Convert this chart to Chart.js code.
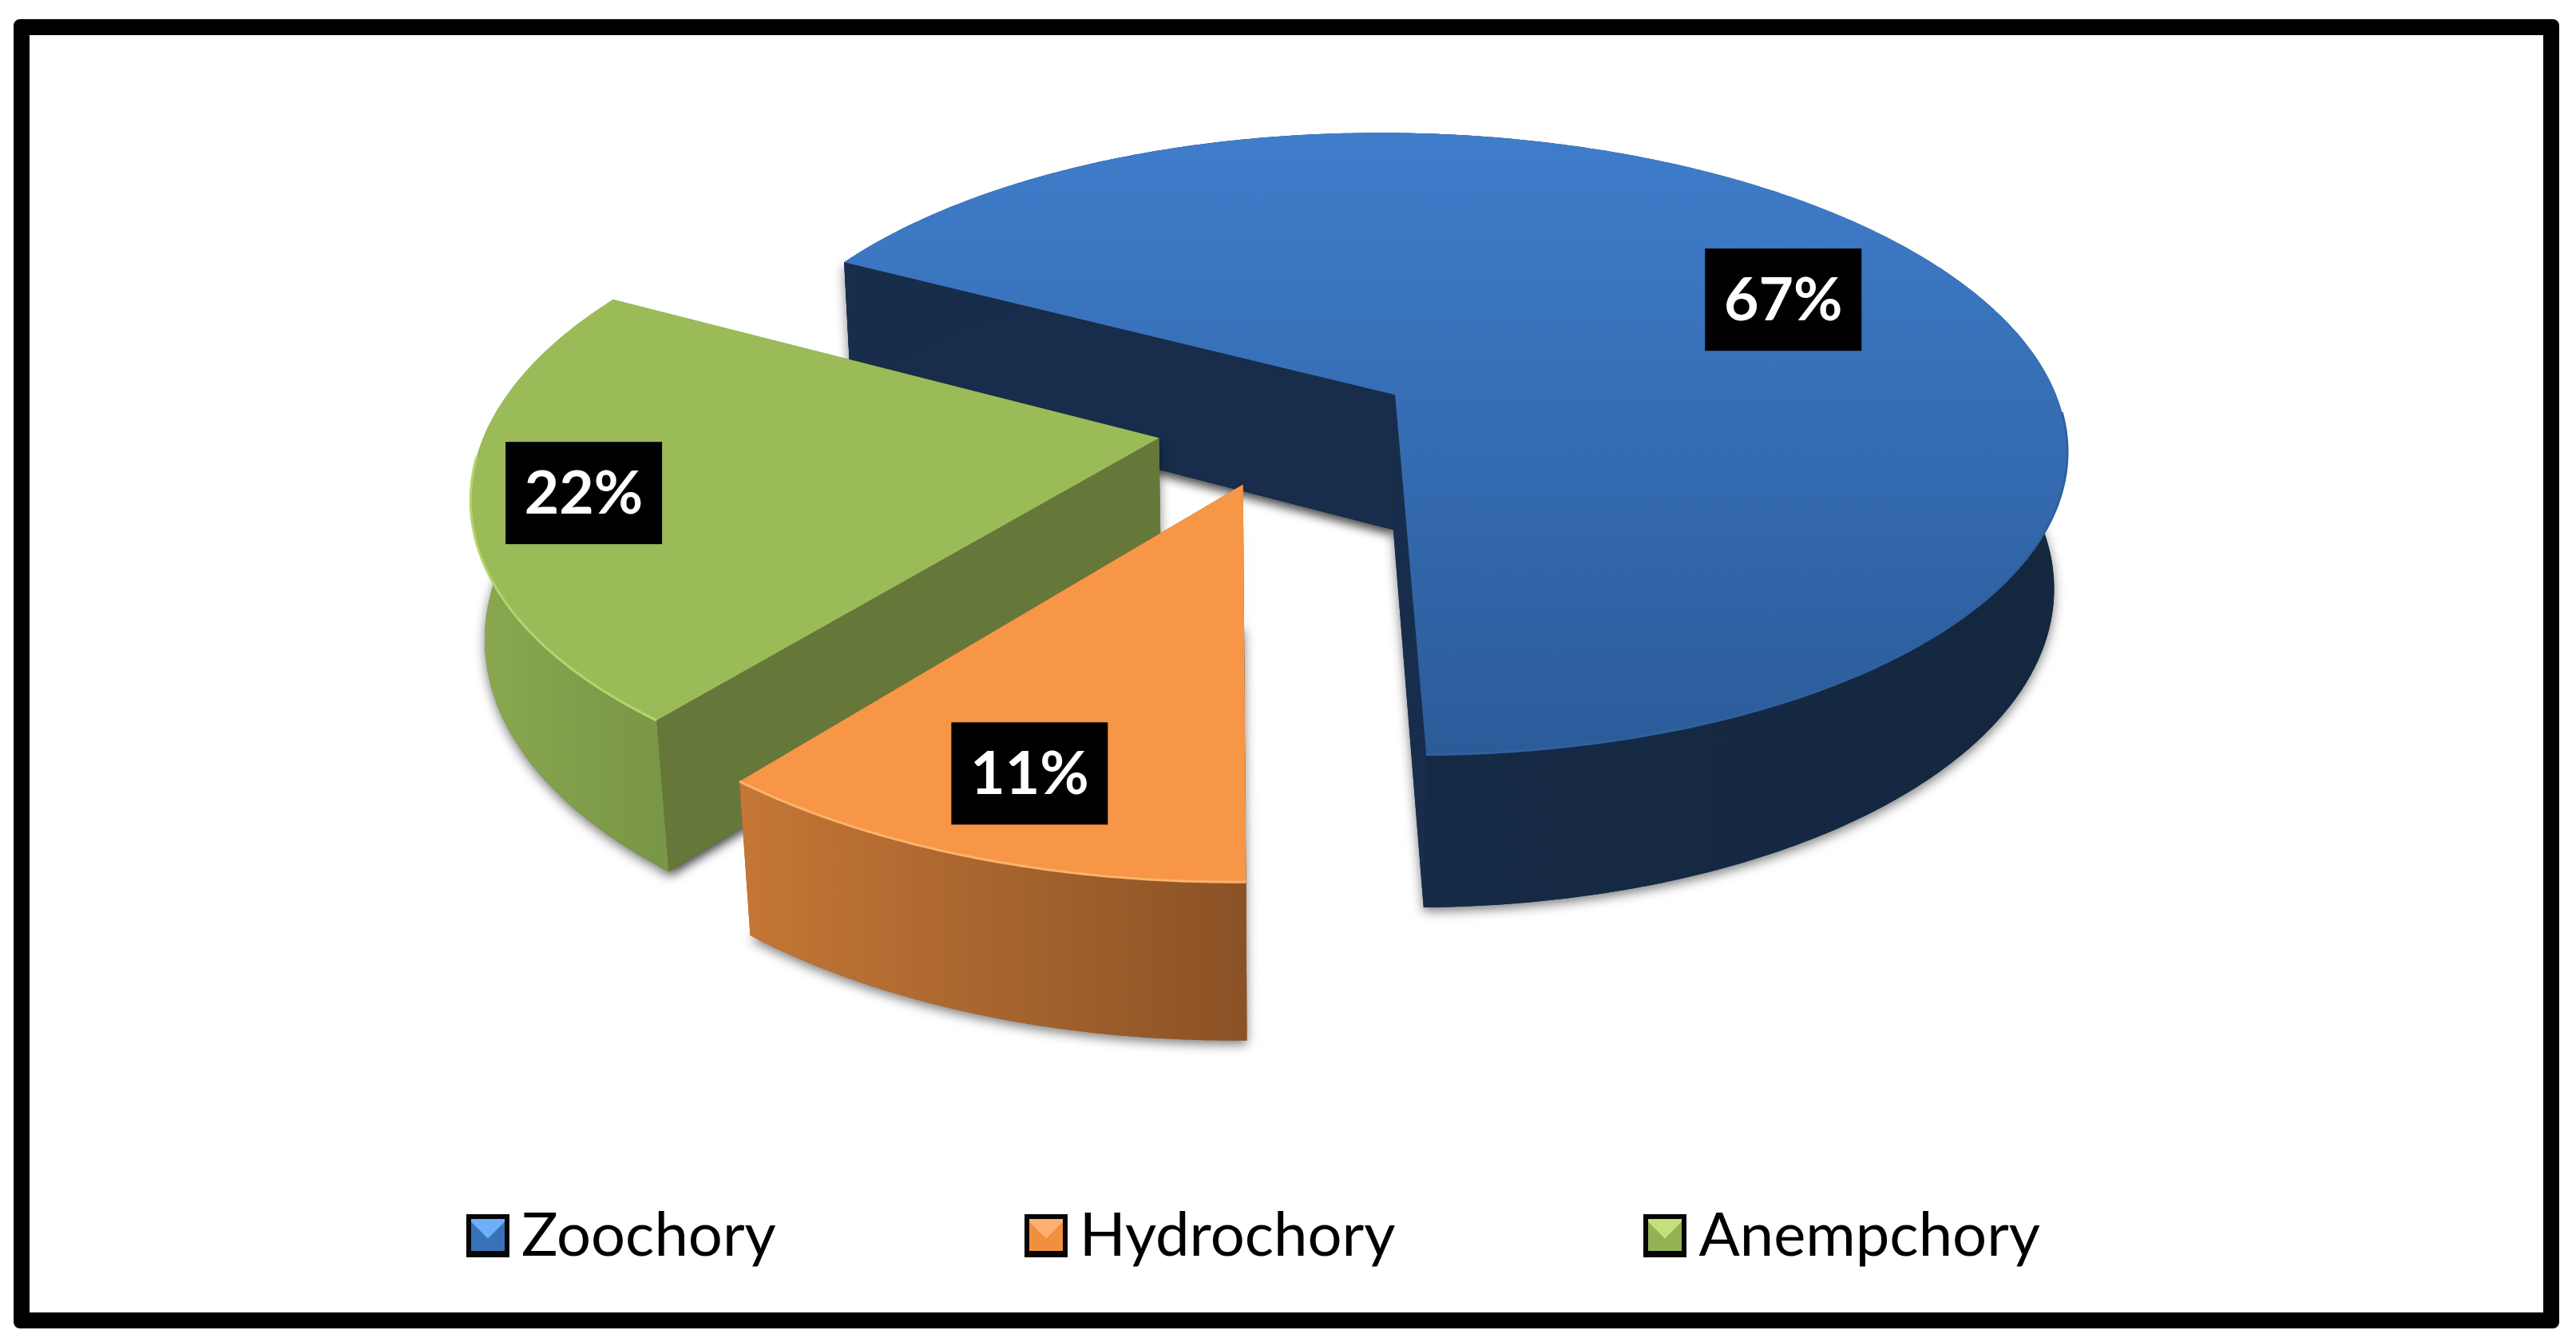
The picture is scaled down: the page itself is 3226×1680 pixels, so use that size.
<!DOCTYPE html>
<html>
<head>
<meta charset="utf-8">
<title>Seed dispersal</title>
<script src="https://cdn.jsdelivr.net/npm/chart.js@4/dist/chart.umd.js"></script>
<style>
    html, body { margin: 0; padding: 0; background: #fff; }
    #stage { position: relative; width: 3226px; height: 1680px; overflow: hidden; }
    #pieChart { position: absolute; left: 0; top: 0; }
    #frame {
        position: absolute; left: 17px; top: 24px; width: 3188px; height: 1639px;
        box-sizing: border-box; border: 20px solid #000; border-radius: 8px; pointer-events: none;
    }
    #legend {
        position: absolute; left: 584px; top: 1520px; height: 54px;
        display: flex; align-items: center; gap: 311px;
        font: 76px Lato, sans-serif; color: #000; white-space: nowrap;
    }
    .legend-item { display: flex; align-items: center; }
    .legend-box { width: 54px; height: 54px; box-sizing: border-box; border: 6px solid #060606; border-bottom-width: 8px; margin-right: 15px; }
    .legend-item span { position: relative; top: -5px; }
</style>
</head>
<body>
<div id="stage">
    <canvas id="pieChart" width="3226" height="1680"></canvas>
    <div id="legend"></div>
    <div id="frame"></div>
</div>
<script>
// 데이터
const categories = ['Zoochory', 'Hydrochory', 'Anempchory'];
const shares = [67, 11, 22];
const shareLabels = ['67%', '11%', '22%'];

// 색상
const topColors = [['#3f7dcb', '#2b5b99'], ['#f79646', '#f79646'], ['#9bbb59', '#9bbb59']];
const wallColors = ['#172d4b', '#8a5227', '#65783a'];
const rimColors = [['#172d4b', '#14273f'], ['#c57736', '#8a5226'], ['#8aa94f', '#7a9647']];
const edgeColors = ['#2f619f', '#ffb36b', '#b4d66a'];
const legendColors = [['#6cb0fb', '#3a72b9'], ['#ffb070', '#f08f3e'], ['#c4e07a', '#93b254']];
// 라벨 위치 (반지름 비율, 각도 보정)
const labelRadius = [0.708, 0.805, 0.84];
const labelTurn = [0.063, 0, 0];

// 3D 투영 설정
const PIE_RADIUS = 841;
const PIE_OFFSET = 162;
const TILT = 0.466;
const NEAR = 0.00019;
const DEPTH_Y = 174;
const DEPTH_W = 0.017;

// 파이 평면 좌표를 화면 좌표로 변환
function project(arc, angle, radius, depth) {
    const mid = (arc.startAngle + arc.endAngle) / 2;
    const u = PIE_OFFSET * Math.cos(mid) + radius * Math.cos(angle);
    const v = PIE_OFFSET * Math.sin(mid) + radius * Math.sin(angle);
    const w = 1 - NEAR * v + DEPTH_W * depth;
    return { x: arc.x + u / w, y: arc.y + (TILT * v + DEPTH_Y * depth) / w };
}

function rimPoints(arc, depth) {
    const pts = [];
    const steps = Math.ceil((arc.endAngle - arc.startAngle) / 0.01);
    for (let i = 0; i <= steps; i++) {
        const a = arc.startAngle + (arc.endAngle - arc.startAngle) * i / steps;
        pts.push(project(arc, a, arc.outerRadius, depth));
    }
    return pts;
}

function fillPath(ctx, pts, fill) {
    ctx.beginPath();
    pts.forEach((p, i) => i ? ctx.lineTo(p.x, p.y) : ctx.moveTo(p.x, p.y));
    ctx.closePath();
    ctx.fillStyle = fill;
    ctx.fill();
}

function drawSlice(ctx, arc, index) {
    const apexTop = project(arc, 0, 0, 0);
    const apexBottom = project(arc, 0, 0, 1);
    const top = rimPoints(arc, 0);
    const bottom = rimPoints(arc, 1);
    const xs = top.map(p => p.x);
    const ys = top.map(p => p.y);

    // 그림자
    ctx.save();
    ctx.shadowColor = 'rgba(0, 0, 0, 0.5)';
    ctx.shadowBlur = 14;
    ctx.shadowOffsetY = 5;
    fillPath(ctx, [apexBottom, ...bottom], wallColors[index]);
    fillPath(ctx, [apexBottom, bottom[0], top[0], apexTop], wallColors[index]);
    ctx.restore();

    // 절단면
    fillPath(ctx, [apexTop, top[0], bottom[0], apexBottom], wallColors[index]);
    fillPath(ctx, [apexTop, top[top.length - 1], bottom[bottom.length - 1], apexBottom], wallColors[index]);

    // 옆면
    const rim = ctx.createLinearGradient(Math.min(...xs), 0, Math.max(...xs), 0);
    rim.addColorStop(0, rimColors[index][0]);
    rim.addColorStop(1, rimColors[index][1]);
    fillPath(ctx, [...top, ...bottom.slice().reverse()], rim);

    // 윗면
    const face = ctx.createLinearGradient(0, Math.min(...ys), 0, Math.max(...ys));
    face.addColorStop(0, topColors[index][0]);
    face.addColorStop(1, topColors[index][1]);
    fillPath(ctx, [apexTop, ...top], face);

    // 가장자리 하이라이트
    ctx.beginPath();
    let started = false;
    top.forEach((p, i) => {
        const a = arc.startAngle + (arc.endAngle - arc.startAngle) * i / (top.length - 1);
        if (Math.sin(a) < 0.05) return;
        started ? ctx.lineTo(p.x, p.y) : ctx.moveTo(p.x, p.y);
        started = true;
    });
    ctx.strokeStyle = edgeColors[index];
    ctx.lineWidth = 3;
    ctx.stroke();
}

function drawShareLabel(ctx, arc, index) {
    const mid = (arc.startAngle + arc.endAngle) / 2 + labelTurn[index];
    const p = project(arc, mid, arc.outerRadius * labelRadius[index], 0);
    ctx.fillStyle = '#000';
    ctx.fillRect(p.x - 98, p.y - 64, 196, 128);
    ctx.fillStyle = '#fff';
    ctx.font = 'bold 75px Lato, sans-serif';
    ctx.textAlign = 'center';
    ctx.textBaseline = 'middle';
    ctx.fillText(shareLabels[index], p.x, p.y + 2);
}

// 입체 파이 플러그인
const pie3dPlugin = {
    id: 'pie3d',
    beforeDatasetsDraw(chart) {
        const ctx = chart.ctx;
        const arcs = chart.getDatasetMeta(0).data;
        [0, 2, 1].forEach(i => drawSlice(ctx, arcs[i], i));
        arcs.forEach((arc, i) => drawShareLabel(ctx, arc, i));
        return false;
    }
};

// 커스텀 범례 생성
function createCustomLegend() {
    const legend = document.getElementById('legend');
    categories.forEach((label, i) => {
        const item = document.createElement('div');
        item.className = 'legend-item';
        const box = document.createElement('div');
        box.className = 'legend-box';
        box.style.background = `conic-gradient(from -45deg at 50% 62%, ${legendColors[i][0]} 0deg 90deg, ${legendColors[i][1]} 90deg 360deg)`;
        const text = document.createElement('span');
        text.textContent = label;
        item.appendChild(box);
        item.appendChild(text);
        legend.appendChild(item);
    });
}

new Chart(document.getElementById('pieChart').getContext('2d'), {
    type: 'pie',
    data: {
        labels: categories,
        datasets: [{ data: shares, radius: PIE_RADIUS, borderWidth: 0 }]
    },
    options: {
        responsive: false,
        animation: false,
        rotation: 298,
        layout: { padding: { right: 4, bottom: 614 } },
        plugins: { legend: { display: false }, tooltip: { enabled: false } }
    },
    plugins: [pie3dPlugin]
});
createCustomLegend();
</script>
</body>
</html>
